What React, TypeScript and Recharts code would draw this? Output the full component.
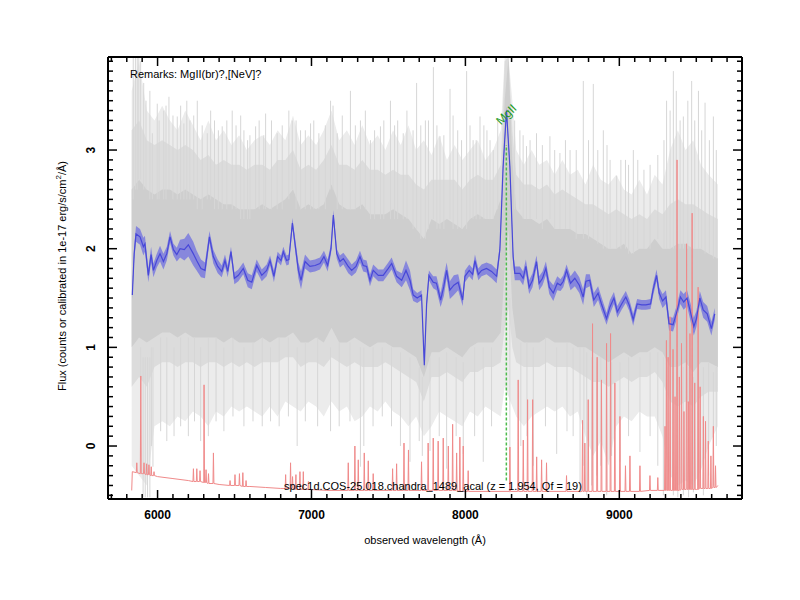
import React from 'react';
import { ComposedChart, XAxis, YAxis, Area, Line, Scatter } from 'recharts';

const FONT = '"Liberation Sans", Arial, Helvetica, sans-serif';

// axes
const X_DOMAIN: [number, number] = [5678, 9797];
const Y_DOMAIN: [number, number] = [-0.537, 3.943];
const xMajorTicks = [6000, 7000, 8000, 9000];
const yMajorTicks = [0, 1, 2, 3];
const xTicks: number[] = [];
for (let v = 5700; v <= 9700; v += 100) xTicks.push(v);
const yTicks: number[] = [];
for (let i = -5; i <= 39; i++) yTicks.push(i / 10);

// texts
const remarks = 'Remarks: MgII(br)?,[NeV]?';
const specName = 'spec1d.COS-25.018.chandra_1489_acal (z = 1.954, Qf = 19)';
const xTitle = 'observed wavelength (\u00c5)';

// emission line marks
const lineMarks = [{ name: 'MgII', wave: 8266, labelY: 3.36, bottom: -0.35, top: 3.05 }];

// gray individual exposures envelope:
// [wavelength, outerHi, midHi, coreHi, coreLo, midLo, outerLo]
const grayEnvelope: number[][] = [
  [5832, 3.6, 3.2, 2.6, 1.0, 0.6, -0.2], [5880, 3.9, 3.3, 2.7, 1.1, 0.7, -0.3],
  [5930, 3.4, 3.1, 2.6, 1.05, 0.6, -0.4], [5980, 3.3, 3.05, 2.55, 1.1, 0.8, 0.2],
  [6030, 3.45, 3.1, 2.6, 1.15, 0.85, 0.25], [6080, 3.3, 3.05, 2.6, 1.15, 0.85, 0.2],
  [6130, 3.2, 3.0, 2.55, 1.1, 0.8, 0.3], [6180, 3.4, 3.05, 2.6, 1.15, 0.85, 0.25],
  [6230, 3.25, 3.0, 2.55, 1.1, 0.85, 0.35], [6280, 3.1, 2.9, 2.5, 1.1, 0.8, 0.3],
  [6330, 3.3, 2.95, 2.55, 1.1, 0.85, 0.2], [6380, 3.1, 2.85, 2.5, 1.1, 0.85, 0.35],
  [6430, 3.2, 2.9, 2.45, 1.05, 0.8, 0.3], [6480, 3.05, 2.85, 2.45, 1.1, 0.85, 0.4],
  [6530, 3.15, 2.85, 2.4, 1.05, 0.8, 0.35], [6580, 3.0, 2.8, 2.4, 1.05, 0.85, 0.4],
  [6630, 3.1, 2.85, 2.4, 1.05, 0.8, 0.35], [6680, 3.15, 2.85, 2.45, 1.1, 0.85, 0.3],
  [6730, 3.05, 2.8, 2.4, 1.05, 0.85, 0.4], [6780, 3.2, 2.9, 2.45, 1.1, 0.85, 0.3],
  [6830, 3.1, 2.9, 2.5, 1.1, 0.9, 0.45], [6880, 3.35, 3.0, 2.6, 1.15, 0.9, 0.4],
  [6930, 3.05, 2.8, 2.4, 1.05, 0.8, 0.35], [6980, 3.15, 2.85, 2.45, 1.05, 0.85, 0.45],
  [7030, 3.05, 2.8, 2.4, 1.1, 0.85, 0.4], [7080, 3.2, 2.9, 2.45, 1.05, 0.8, 0.3],
  [7130, 3.4, 3.05, 2.65, 1.2, 0.9, 0.45], [7180, 3.1, 2.85, 2.45, 1.05, 0.85, 0.35],
  [7230, 3.2, 2.85, 2.4, 1.05, 0.8, 0.4], [7280, 3.05, 2.8, 2.4, 1.1, 0.85, 0.25],
  [7330, 3.25, 2.9, 2.45, 1.05, 0.8, 0.3], [7380, 3.05, 2.8, 2.35, 1.0, 0.8, 0.4],
  [7430, 3.15, 2.8, 2.35, 1.05, 0.8, 0.35], [7480, 3.0, 2.75, 2.35, 1.05, 0.85, 0.45],
  [7530, 3.2, 2.8, 2.4, 1.0, 0.8, 0.35], [7580, 3.05, 2.75, 2.35, 1.0, 0.75, 0.3],
  [7630, 3.25, 2.75, 2.3, 0.95, 0.7, 0.2], [7680, 3.0, 2.65, 2.2, 0.9, 0.65, 0.3],
  [7730, 3.1, 2.6, 2.1, 0.7, 0.45, 0.1], [7780, 2.95, 2.7, 2.3, 0.95, 0.7, 0.2],
  [7830, 3.15, 2.7, 2.25, 0.95, 0.7, 0.35], [7880, 2.9, 2.7, 2.3, 1.0, 0.75, 0.3],
  [7930, 3.05, 2.7, 2.25, 0.95, 0.7, 0.25], [7980, 2.9, 2.6, 2.2, 0.9, 0.65, 0.2],
  [8030, 3.0, 2.7, 2.3, 1.0, 0.75, 0.35], [8080, 3.1, 2.75, 2.35, 1.05, 0.75, 0.3],
  [8130, 2.9, 2.7, 2.3, 1.05, 0.8, 0.4], [8180, 3.0, 2.7, 2.3, 1.05, 0.8, 0.35],
  [8230, 3.2, 2.85, 2.5, 1.15, 0.85, 0.3], [8255, 3.94, 3.9, 3.5, 1.8, 1.2, 0.6],
  [8280, 3.94, 3.94, 3.94, 2.2, 1.4, 0.5], [8305, 3.5, 3.2, 2.9, 1.4, 1.0, 0.4],
  [8330, 3.0, 2.75, 2.4, 1.1, 0.85, 0.3], [8380, 2.85, 2.65, 2.3, 1.05, 0.8, 0.2],
  [8430, 3.0, 2.65, 2.3, 1.05, 0.8, 0.3], [8480, 2.85, 2.6, 2.25, 1.05, 0.8, 0.35],
  [8530, 2.9, 2.65, 2.3, 1.1, 0.85, 0.4], [8580, 2.75, 2.55, 2.2, 1.05, 0.8, 0.35],
  [8630, 2.9, 2.6, 2.2, 1.05, 0.8, 0.4], [8680, 2.75, 2.55, 2.2, 1.05, 0.8, 0.3],
  [8730, 2.8, 2.5, 2.15, 1.0, 0.75, 0.35], [8780, 2.65, 2.45, 2.15, 1.0, 0.7, 0.1],
  [8830, 2.85, 2.45, 2.1, 0.95, 0.65, -0.1], [8880, 2.7, 2.4, 2.05, 0.9, 0.65, 0.05],
  [8930, 2.65, 2.35, 2.0, 0.85, 0.6, -0.2], [8980, 2.75, 2.4, 2.0, 0.9, 0.65, 0.2],
  [9030, 2.6, 2.35, 2.05, 0.95, 0.7, 0.3], [9080, 2.55, 2.3, 1.95, 0.9, 0.65, 0.25],
  [9130, 2.7, 2.35, 2.0, 0.95, 0.7, 0.35], [9180, 2.55, 2.3, 2.0, 0.95, 0.7, 0.3],
  [9230, 2.75, 2.4, 2.1, 1.0, 0.75, 0.3], [9280, 2.65, 2.35, 2.0, 0.95, 0.65, 0.1],
  [9330, 3.0, 2.45, 2.0, 0.8, 0.45, -0.3], [9380, 3.2, 2.5, 2.05, 0.8, 0.4, -0.4],
  [9430, 3.0, 2.45, 2.05, 0.85, 0.45, -0.35], [9480, 3.1, 2.45, 2.0, 0.75, 0.4, -0.4],
  [9530, 2.85, 2.4, 2.0, 0.85, 0.5, -0.25], [9580, 2.75, 2.35, 1.95, 0.85, 0.55, 0.0],
  [9640, 2.65, 2.3, 1.9, 0.8, 0.55, 0.2],
];

// gray single-pixel excursions: [wavelength, from, to]
const graySpikes: number[][] = [
  [5842, 2.5, 3.94], [5856, 2.6, 3.94], [5868, 2.6, 3.94], [5878, 2.7, 3.94], [5890, 2.7, 3.9],
  [5910, 2.6, 3.68], [5925, 2.6, 3.5], [5950, 2.5, 3.6], [5966, 2.5, 3.17], [5998, 2.5, 3.47],
  [6010, 2.5, 3.3], [6040, 2.5, 3.4], [6055, 2.5, 3.45], [6074, 2.6, 3.54], [6100, 2.5, 3.35],
  [6128, 2.5, 3.34], [6150, 2.5, 3.45], [6171, 2.5, 3.27], [6190, 2.5, 3.5], [6210, 2.5, 3.3],
  [6235, 2.5, 3.35], [6258, 2.4, 3.5], [6290, 2.4, 3.25], [6323, 2.5, 3.17], [6345, 2.5, 3.4],
  [6370, 2.4, 3.3], [6395, 2.4, 3.2], [6420, 2.4, 3.24], [6450, 2.4, 3.3], [6485, 2.4, 3.4],
  [6510, 2.4, 3.25], [6540, 2.3, 3.35], [6561, 2.3, 3.2], [6585, 2.3, 3.1], [6600, 2.3, 3.15],
  [6637, 2.4, 3.24], [6660, 2.4, 3.3], [6690, 2.4, 3.15], [6702, 2.4, 3.37], [6740, 2.4, 3.3],
  [6777, 2.4, 3.17], [6810, 2.4, 3.25], [6853, 2.5, 3.4], [6875, 2.6, 3.3], [6900, 2.4, 3.3],
  [6929, 2.4, 3.2], [6960, 2.4, 3.2], [6994, 2.4, 3.27], [7015, 2.4, 3.3], [7048, 2.4, 3.17],
  [7090, 2.4, 3.25], [7124, 2.6, 3.5], [7140, 2.6, 3.45], [7167, 2.4, 3.17], [7200, 2.4, 3.35],
  [7253, 2.4, 3.6], [7285, 2.4, 3.25], [7318, 2.4, 3.3], [7350, 2.4, 3.4], [7383, 2.3, 3.1],
  [7410, 2.3, 3.2], [7448, 2.3, 3.24], [7470, 2.3, 3.3], [7513, 2.3, 3.5], [7540, 2.3, 3.25],
  [7560, 2.3, 3.3], [7596, 2.3, 3.17], [7620, 2.3, 3.4], [7660, 2.2, 3.2], [7683, 2.2, 3.68],
  [7710, 2.1, 3.25], [7740, 2.1, 3.3], [7760, 2.2, 3.3], [7792, 2.3, 3.84], [7815, 2.2, 3.25],
  [7835, 2.2, 3.14], [7860, 2.2, 3.15], [7900, 2.3, 3.62], [7920, 2.2, 3.35], [7950, 2.2, 3.2],
  [7975, 2.2, 3.1], [8008, 2.2, 3.8], [8030, 2.3, 3.25], [8050, 2.3, 3.1], [8070, 2.3, 3.1],
  [8095, 2.3, 3.34], [8120, 2.3, 3.25], [8140, 2.3, 3.2], [8160, 2.3, 3.1], [8181, 2.3, 3.0],
  [8210, 2.4, 3.3], [8320, 2.4, 3.3], [8354, 2.4, 3.2], [8375, 2.3, 3.15], [8397, 2.3, 3.04],
  [8420, 2.3, 3.1], [8462, 2.3, 3.17], [8500, 2.2, 3.05], [8549, 2.3, 3.14], [8580, 2.2, 3.0],
  [8614, 2.2, 2.97], [8650, 2.2, 3.1], [8680, 2.2, 3.0], [8720, 2.1, 3.0], [8766, 2.1, 3.7],
  [8800, 2.1, 3.1], [8831, 2.1, 3.67], [8860, 2.05, 3.0], [8896, 2.0, 3.2], [8920, 2.0, 3.05],
  [8940, 2.0, 2.9], [8983, 2.0, 2.74], [9010, 2.0, 2.9], [9040, 2.0, 2.9], [9060, 1.95, 2.85],
  [9091, 1.95, 3.0], [9120, 2.0, 2.9], [9160, 2.0, 2.8], [9200, 2.0, 2.85], [9250, 2.1, 2.95],
  [9290, 2.0, 3.1], [9307, 2.0, 3.5], [9330, 2.0, 3.4], [9351, 2.0, 3.8], [9370, 2.0, 3.6],
  [9395, 2.0, 3.3], [9416, 2.0, 3.34], [9445, 2.0, 3.5], [9470, 2.0, 3.7], [9490, 2.0, 3.3],
  [9514, 2.0, 3.6], [9535, 2.0, 3.2], [9557, 1.95, 3.48], [9585, 1.95, 3.1], [9611, 1.9, 3.34],
  [9630, 1.9, 3.0],
  [5890, 1.0, -0.1], [5906, 0.9, -0.52], [5920, 0.9, -0.52], [5935, 0.9, -0.52], [5950, 0.9, -0.52],
  [5960, 1.0, 0.0], [5970, 1.0, -0.21], [6020, 1.1, 0.15], [6060, 1.1, 0.05], [6107, 1.0, 0.1],
  [6150, 1.1, 0.2], [6200, 1.1, 0.1], [6240, 1.1, 0.25], [6280, 1.0, 0.05], [6330, 1.1, 0.1],
  [6380, 1.1, 0.25], [6431, 1.0, 0.15], [6490, 1.1, 0.3], [6561, 1.0, 0.2], [6620, 1.05, 0.25],
  [6680, 1.1, 0.2], [6734, 1.0, 0.25], [6790, 1.1, 0.2], [6850, 1.1, 0.3], [6907, 1.0, 0.0],
  [6960, 1.05, 0.25], [7040, 1.1, 0.2], [7124, 1.0, 0.15], [7180, 1.05, 0.2], [7250, 1.05, 0.25],
  [7318, 1.0, -0.21], [7340, 1.0, 0.0], [7400, 1.0, 0.2], [7460, 1.0, 0.3], [7520, 1.0, 0.2],
  [7578, 0.95, 0.0], [7640, 0.9, -0.16], [7700, 0.8, 0.05], [7720, 0.7, -0.1], [7770, 0.9, -0.05],
  [7830, 0.9, 0.1], [7878, 0.95, -0.23], [7940, 0.9, 0.1], [7986, 0.85, -0.08], [8060, 1.0, 0.1],
  [8116, 1.0, -0.16], [8170, 1.0, 0.2], [8289, 1.5, -0.47], [8360, 1.05, 0.0], [8400, 1.05, 0.1],
  [8441, 1.0, -0.2], [8520, 1.1, 0.2], [8593, 1.0, -0.08], [8660, 1.05, 0.15], [8700, 1.0, 0.1],
  [8745, 1.0, -0.47], [8770, 1.0, -0.2], [8788, 0.95, -0.5], [8820, 0.9, -0.4], [8853, 0.85, -0.3],
  [8880, 0.9, -0.2], [8918, 0.8, -0.5], [8950, 0.85, -0.1], [9004, 0.85, -0.16], [9060, 0.9, 0.1],
  [9134, 0.9, -0.06], [9200, 0.95, 0.1], [9250, 0.95, -0.2], [9286, 0.9, -0.5], [9310, 0.8, -0.45],
  [9351, 0.75, -0.5], [9380, 0.8, -0.52], [9416, 0.8, -0.5], [9450, 0.8, -0.52], [9481, 0.7, -0.47],
  [9510, 0.8, -0.4], [9546, 0.8, -0.5], [9580, 0.85, -0.3], [9611, 0.75, -0.4], [9630, 0.8, 0.0],
];

// smoothed spectrum: [wavelength, flux, error]
const blueSpectrum: number[][] = [
  [5836, 1.53, 0.05], [5848, 1.95, 0.07], [5860, 2.15, 0.08], [5886, 2.12, 0.08], [5908, 2.02, 0.09],
  [5918, 2.05, 0.08], [5940, 1.73, 0.07], [5958, 1.94, 0.08], [5973, 1.78, 0.07], [5995, 1.88, 0.07],
  [6016, 1.95, 0.08], [6038, 1.87, 0.08], [6060, 1.95, 0.07], [6081, 2.12, 0.06], [6103, 1.99, 0.06],
  [6125, 1.94, 0.07], [6146, 2.0, 0.09], [6174, 1.99, 0.11], [6200, 2.04, 0.12], [6232, 1.95, 0.12],
  [6254, 1.88, 0.1], [6282, 1.8, 0.09], [6308, 1.78, 0.08], [6337, 2.12, 0.06], [6362, 1.92, 0.07],
  [6391, 1.82, 0.07], [6417, 1.77, 0.06], [6438, 1.88, 0.06], [6456, 1.77, 0.06], [6477, 1.97, 0.05],
  [6499, 1.7, 0.06], [6525, 1.73, 0.06], [6557, 1.8, 0.06], [6586, 1.68, 0.07], [6612, 1.66, 0.07],
  [6644, 1.83, 0.06], [6677, 1.73, 0.06], [6709, 1.78, 0.06], [6731, 1.88, 0.05], [6756, 1.72, 0.06],
  [6780, 1.92, 0.05], [6802, 1.88, 0.05], [6817, 1.97, 0.05], [6838, 1.88, 0.05], [6853, 1.89, 0.05],
  [6876, 2.26, 0.05], [6893, 2.05, 0.06], [6915, 1.78, 0.08], [6932, 1.68, 0.09], [6958, 1.87, 0.07],
  [6990, 1.82, 0.06], [7023, 1.83, 0.06], [7055, 1.85, 0.06], [7081, 1.92, 0.06], [7105, 1.83, 0.06],
  [7127, 2.0, 0.05], [7142, 2.34, 0.05], [7164, 1.95, 0.05], [7185, 1.87, 0.06], [7207, 1.9, 0.06],
  [7239, 1.82, 0.07], [7261, 1.78, 0.06], [7289, 1.82, 0.06], [7315, 1.92, 0.06], [7336, 1.83, 0.06],
  [7358, 1.82, 0.06], [7380, 1.68, 0.06], [7401, 1.78, 0.06], [7434, 1.73, 0.06], [7466, 1.73, 0.06],
  [7499, 1.8, 0.06], [7521, 1.85, 0.06], [7553, 1.72, 0.06], [7586, 1.68, 0.07], [7614, 1.78, 0.1],
  [7640, 1.68, 0.1], [7661, 1.53, 0.06], [7687, 1.5, 0.05], [7715, 1.53, 0.05], [7733, 0.82, 0.04],
  [7748, 1.44, 0.05], [7763, 1.73, 0.05], [7791, 1.66, 0.06], [7812, 1.65, 0.07], [7839, 1.48, 0.07],
  [7860, 1.62, 0.1], [7878, 1.78, 0.08], [7899, 1.58, 0.09], [7925, 1.63, 0.1], [7953, 1.66, 0.08],
  [7982, 1.48, 0.06], [7997, 1.72, 0.06], [8025, 1.78, 0.06], [8047, 1.74, 0.06], [8062, 1.88, 0.06],
  [8084, 1.74, 0.06], [8105, 1.78, 0.06], [8137, 1.8, 0.06], [8170, 1.77, 0.07], [8203, 1.72, 0.07],
  [8224, 1.99, 0.05], [8245, 2.83, 0.04], [8267, 3.4, 0.04], [8289, 2.83, 0.04], [8310, 1.92, 0.06],
  [8321, 1.75, 0.07], [8354, 1.75, 0.07], [8375, 1.7, 0.07], [8393, 1.82, 0.07], [8414, 1.61, 0.07],
  [8436, 1.68, 0.07], [8462, 1.87, 0.06], [8479, 1.65, 0.07], [8501, 1.7, 0.07], [8523, 1.8, 0.07],
  [8545, 1.61, 0.07], [8571, 1.55, 0.08], [8597, 1.65, 0.07], [8618, 1.63, 0.06], [8636, 1.67, 0.06],
  [8657, 1.78, 0.06], [8683, 1.65, 0.07], [8711, 1.7, 0.08], [8740, 1.63, 0.08], [8765, 1.51, 0.08],
  [8783, 1.67, 0.07], [8808, 1.68, 0.06], [8834, 1.48, 0.07], [8862, 1.55, 0.07], [8884, 1.44, 0.07],
  [8917, 1.29, 0.06], [8939, 1.41, 0.07], [8965, 1.5, 0.06], [8987, 1.36, 0.06], [9015, 1.44, 0.06],
  [9042, 1.51, 0.06], [9064, 1.43, 0.06], [9090, 1.28, 0.06], [9116, 1.44, 0.05], [9145, 1.43, 0.05],
  [9173, 1.43, 0.05], [9203, 1.44, 0.05], [9219, 1.58, 0.06], [9242, 1.73, 0.06], [9259, 1.55, 0.06],
  [9281, 1.47, 0.07], [9303, 1.51, 0.07], [9323, 1.24, 0.07], [9349, 1.23, 0.07], [9370, 1.34, 0.07],
  [9397, 1.51, 0.07], [9418, 1.46, 0.08], [9440, 1.5, 0.08], [9462, 1.36, 0.09], [9484, 1.21, 0.09],
  [9501, 1.29, 0.08], [9523, 1.5, 0.07], [9545, 1.38, 0.08], [9571, 1.34, 0.08], [9598, 1.19, 0.07],
  [9620, 1.34, 0.06],
];

// noise spectrum baseline: [wavelength, flux]
const redBaseline: number[][] = [
  [5832, -0.45], [5836, -0.26], [5900, -0.28], [6000, -0.31], [6100, -0.33], [6200, -0.35],
  [6300, -0.37], [6400, -0.39], [6500, -0.4], [6600, -0.41], [6700, -0.42], [6800, -0.43],
  [6900, -0.44], [7100, -0.45], [7500, -0.45], [8000, -0.46], [8500, -0.46], [9000, -0.46],
  [9300, -0.45], [9500, -0.44], [9630, -0.42], [9640, -0.4],
];

// noise spectrum sky-line spikes: [wavelength, base, top]
const redSpikes: number[][] = [
  [5865, -0.27, -0.17], [5891, -0.28, 0.71], [5912, -0.28, -0.17], [5929, -0.29, -0.18], [5944, -0.29, -0.19],
  [5959, -0.3, -0.21], [5977, -0.3, -0.26], [6233, -0.36, -0.23], [6255, -0.36, -0.23], [6276, -0.36, -0.25],
  [6302, -0.37, 0.62], [6315, -0.37, -0.24], [6331, -0.38, -0.28], [6363, -0.38, -0.07], [6471, -0.4, -0.35],
  [6503, -0.4, -0.29], [6532, -0.4, -0.28], [6554, -0.41, -0.27], [6575, -0.41, -0.35], [6832, -0.43, -0.29],
  [6864, -0.43, -0.17], [6877, -0.43, -0.31], [6899, -0.44, -0.29], [6925, -0.44, -0.26], [6947, -0.44, -0.26],
  [6980, -0.44, -0.36], [7239, -0.45, -0.17], [7282, -0.45, 0.0], [7304, -0.45, -0.14], [7343, -0.45, -0.07],
  [7369, -0.45, -0.15], [7401, -0.45, -0.28], [7527, -0.45, -0.23], [7553, -0.45, -0.18], [7601, -0.45, 0.03],
  [7630, -0.45, -0.04], [7715, -0.45, -0.16], [7758, -0.45, 0.03], [7791, -0.45, 0.08], [7823, -0.45, 0.05],
  [7856, -0.45, 0.08], [7889, -0.45, 0.0], [7917, -0.45, 0.22], [7943, -0.45, -0.07], [7964, -0.46, 0.09],
  [7986, -0.46, 0.0], [8018, -0.46, -0.25], [8289, -0.46, -0.01], [8343, -0.46, 0.67], [8376, -0.46, 0.06],
  [8404, -0.46, 0.47], [8437, -0.46, 0.47], [8463, -0.46, -0.11], [8495, -0.46, -0.14], [8527, -0.46, -0.17],
  [8657, -0.46, -0.3], [8761, -0.46, 0.26], [8776, -0.46, 0.03], [8798, -0.46, 0.47], [8826, -0.46, 1.24],
  [8856, -0.46, 0.9], [8884, -0.46, 0.67], [8917, -0.46, 1.04], [8943, -0.46, 1.14], [8971, -0.46, 0.64],
  [9004, -0.46, 0.3], [9040, -0.46, -0.2], [9069, -0.46, -0.1], [9134, -0.46, -0.2], [9199, -0.45, -0.3],
  [9250, -0.45, -0.32], [9297, -0.45, 0.2], [9306, -0.45, 1.07], [9317, -0.45, 0.9], [9330, -0.45, 1.31],
  [9349, -0.45, 0.98], [9362, -0.45, 0.5], [9375, -0.45, 2.9], [9390, -0.45, 0.7], [9404, -0.44, 1.04],
  [9420, -0.44, 0.35], [9437, -0.44, 2.05], [9448, -0.44, 0.45], [9459, -0.44, 1.14], [9473, -0.44, 2.36],
  [9490, -0.44, 0.64], [9512, -0.44, 1.61], [9525, -0.43, 0.6], [9546, -0.43, 0.3], [9560, -0.43, 0.25],
  [9578, -0.43, 0.05], [9595, -0.43, -0.1], [9611, -0.42, 0.2], [9625, -0.42, -0.2],
];

// ---- tables built for the library ----
const grayData = grayEnvelope.map(([x, oh, mh, ch, cl, ml, ol]) => ({
  x,
  outer: [ol, oh],
  mid: [ml, mh],
  core: [cl, ch],
}));
const graySpikeData: { x: number; y: number | null }[] = [];
graySpikes.forEach(([x, a, b]) => {
  graySpikeData.push({ x, y: a }, { x, y: b }, { x, y: null });
});
const blueData = blueSpectrum.map(([x, f, e]) => ({ x, y: f, band: [f - e, f + e] }));
const redData: { x: number; y: number }[] = redBaseline.map(([x, y]) => ({ x, y }));
redSpikes.forEach(([w, b, t]) => {
  redData.push({ x: w - 3, y: b }, { x: w, y: t }, { x: w + 3, y: b });
});
redData.sort((a, b) => a.x - b.x);
const markLineData = lineMarks.map((m) => [
  { x: m.wave, y: m.bottom },
  { x: m.wave, y: m.top },
]);
const markLabelData = lineMarks.map((m) => ({ x: m.wave, y: m.labelY, name: m.name }));

const isMajorY = (v: number) => Math.abs(v - Math.round(v)) < 1e-6 && yMajorTicks.includes(Math.round(v));

const BottomTick = (props: any) => {
  const { x, y, payload } = props;
  const v = payload.value;
  const major = xMajorTicks.includes(v);
  return (
    <g>
      <line x1={x} x2={x} y1={y} y2={y - (major ? 9 : 5)} stroke="#000" strokeWidth={1.5} />
      {major && (
        <text x={x} y={y + 20} textAnchor="middle" fontSize={12} fontWeight="bold" fontFamily={FONT} fill="#000">
          {v}
        </text>
      )}
    </g>
  );
};

const TopTick = (props: any) => {
  const { x, y, payload } = props;
  const major = xMajorTicks.includes(payload.value);
  return <line x1={x} x2={x} y1={y} y2={y + (major ? 9 : 5)} stroke="#000" strokeWidth={1.5} />;
};

const LeftTick = (props: any) => {
  const { x, y, payload } = props;
  const v = payload.value;
  const major = isMajorY(v);
  const lx = x - 13;
  return (
    <g>
      <line x1={x} x2={x + (major ? 9 : 5)} y1={y} y2={y} stroke="#000" strokeWidth={1.5} />
      {major && (
        <text
          x={lx}
          y={y}
          transform={`rotate(-90 ${lx} ${y})`}
          textAnchor="middle"
          fontSize={12}
          fontWeight="bold"
          fontFamily={FONT}
          fill="#000"
        >
          {Math.round(v)}
        </text>
      )}
    </g>
  );
};

const RightTick = (props: any) => {
  const { x, y, payload } = props;
  const major = isMajorY(payload.value);
  return <line x1={x} x2={x - (major ? 9 : 5)} y1={y} y2={y} stroke="#000" strokeWidth={1.5} />;
};

const MarkLabel = (p: any) => (
  <text
    x={p.cx}
    y={p.cy}
    transform={`rotate(-45 ${p.cx} ${p.cy})`}
    textAnchor="middle"
    dominantBaseline="central"
    fill="#1e9a1e"
    fontSize={12}
    fontFamily={FONT}
  >
    {p.payload?.name ?? 'MgII'}
  </text>
);

const areaProps = {
  type: 'linear' as const,
  stroke: 'none',
  fillOpacity: 1,
  dot: false,
  activeDot: false,
  isAnimationActive: false,
};

export default function App() {
  const W = 784;
  const H = 584;
  return (
    <div style={{ position: 'relative', width: W, height: H }}>
      <ComposedChart width={W} height={H} margin={{ top: 40, right: 40, bottom: 53, left: 0 }}>
        <XAxis
          type="number"
          dataKey="x"
          domain={X_DOMAIN}
          allowDataOverflow
          ticks={xTicks}
          interval={0}
          tick={<BottomTick />}
          tickLine={false}
          tickSize={0}
          tickMargin={0}
          axisLine={{ stroke: '#000', strokeWidth: 2 }}
          height={40}
        />
        <XAxis
          xAxisId="top"
          orientation="top"
          type="number"
          dataKey="x"
          domain={X_DOMAIN}
          allowDataOverflow
          ticks={xTicks}
          interval={0}
          tick={<TopTick />}
          tickLine={false}
          tickSize={0}
          tickMargin={0}
          axisLine={{ stroke: '#000', strokeWidth: 2 }}
          height={9}
        />
        <YAxis
          type="number"
          dataKey="y"
          domain={Y_DOMAIN}
          allowDataOverflow
          ticks={yTicks}
          interval={0}
          tick={<LeftTick />}
          tickLine={false}
          tickSize={0}
          tickMargin={0}
          axisLine={{ stroke: '#000', strokeWidth: 2 }}
          width={100}
        />
        <YAxis
          yAxisId="right"
          orientation="right"
          type="number"
          dataKey="y"
          domain={Y_DOMAIN}
          allowDataOverflow
          ticks={yTicks}
          interval={0}
          tick={<RightTick />}
          tickLine={false}
          tickSize={0}
          tickMargin={0}
          axisLine={{ stroke: '#000', strokeWidth: 2 }}
          width={10}
        />
        <Area data={grayData} dataKey="outer" fill="#ececec" {...areaProps} />
        <Line
          data={graySpikeData}
          dataKey="y"
          type="linear"
          stroke="#d6d6d6"
          strokeWidth={1}
          dot={false}
          activeDot={false}
          isAnimationActive={false}
        />
        <Area data={grayData} dataKey="mid" fill="#dcdcdc" {...areaProps} />
        <Area data={grayData} dataKey="core" fill="#cecece" {...areaProps} />
        <Line
          data={redData}
          dataKey="y"
          type="linear"
          stroke="#f08a8a"
          strokeWidth={1}
          dot={false}
          activeDot={false}
          isAnimationActive={false}
        />
        <Area data={blueData} dataKey="band" type="linear" stroke="none" fill="#6f6fe0" fillOpacity={0.75}
          dot={false} activeDot={false} isAnimationActive={false} />
        <Line
          data={blueData}
          dataKey="y"
          type="linear"
          stroke="#4848d8"
          strokeWidth={1.2}
          dot={false}
          activeDot={false}
          isAnimationActive={false}
        />
        {markLineData.map((d, i) => (
          <Line
            key={`ml${i}`}
            data={d}
            dataKey="y"
            type="linear"
            stroke="#4cbb4c"
            strokeWidth={1.5}
            strokeDasharray="3 2"
            dot={false}
            activeDot={false}
            isAnimationActive={false}
          />
        ))}
        <Scatter data={markLabelData} dataKey="y" shape={<MarkLabel />} isAnimationActive={false} />
      </ComposedChart>
      <svg
        width={W}
        height={H}
        style={{ position: 'absolute', left: 0, top: 0, pointerEvents: 'none' }}
        fontFamily={FONT}
      >
        <text x={122} y={70} fontSize={11} fill="#000">
          {remarks}
        </text>
        <text x={425} y={482} fontSize={11} fill="#000" textAnchor="middle">
          {specName}
        </text>
        <text x={417} y={536} fontSize={11} fill="#000" textAnchor="middle">
          {xTitle}
        </text>
        <text x={58} y={268} fontSize={11} fill="#000" textAnchor="middle" transform="rotate(-90 58 268)">
          Flux (counts or calibrated in 1e-17 erg/s/cm
          <tspan dy={-5} fontSize={8}>
            2
          </tspan>
          <tspan dy={5}>/{'\u00c5'})</tspan>
        </text>
      </svg>
    </div>
  );
}
